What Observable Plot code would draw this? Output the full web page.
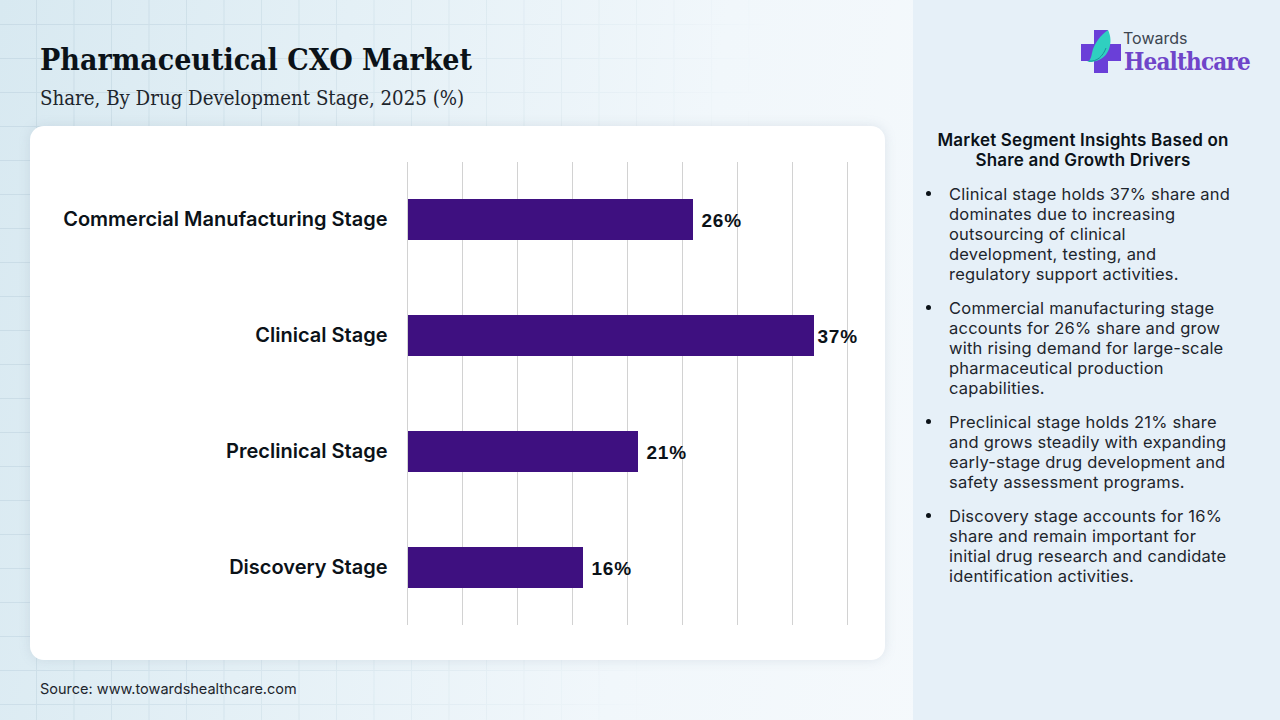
<!DOCTYPE html>
<html><head><meta charset="utf-8">
<script src="https://cdn.jsdelivr.net/npm/d3@7"></script>
<script src="https://cdn.jsdelivr.net/npm/@observablehq/plot@0.6"></script>
<style>
html,body{margin:0;padding:0;width:1280px;height:720px;overflow:hidden}
#page{position:relative;width:1280px;height:720px;overflow:hidden;
 background:linear-gradient(100deg,#d8e9f1 0%,#e4f0f6 25%,#f1f7fb 52%,#f9fbfd 100%)}
#grid{position:absolute;left:0;top:0;width:913px;height:720px;
 background-image:linear-gradient(#c6d9e4 1px,transparent 1px),linear-gradient(90deg,#c6d9e4 1px,transparent 1px);
 background-size:37.5px 34px;background-position:36px 24px;
 -webkit-mask-image:linear-gradient(100deg,rgba(0,0,0,.85),rgba(0,0,0,.3) 50%,transparent 75%)}
#side{position:absolute;left:913px;top:0;width:367px;height:720px;background:#e6f0f8}
#card{position:absolute;left:30px;top:126px;width:855px;height:534px;background:#fff;border-radius:14px;box-shadow:0 0 12px rgba(120,140,160,.18)}
#title{position:absolute;left:40px;top:42px;font:700 30px "DejaVu Serif Condensed","DejaVu Serif";color:#0b1218;white-space:nowrap}
#sub{position:absolute;left:40px;top:86px;font:400 20.25px "DejaVu Serif Condensed","DejaVu Serif";color:#1d252c;white-space:nowrap}
#source{position:absolute;left:40px;top:680px;font:400 14.5px Inter;color:#1d252c}
#chart{position:absolute;left:0;top:0}
#chart .val text,#chart text.val{letter-spacing:.8px}
#head{position:absolute;left:925px;top:130px;width:316px;text-align:center;font:600 17px/20px Inter;letter-spacing:.18px;color:#0b1218;white-space:nowrap}
#list{position:absolute;left:925px;top:184px;width:316px;margin:0;padding:0;list-style:none;font:400 16.5px/20px Inter;letter-spacing:.22px;color:#1d252c}
#list li{position:relative;padding-left:24px;margin-bottom:14px;white-space:nowrap}
#list li::before{content:"";position:absolute;left:1px;top:7px;width:5px;height:5px;border-radius:50%;background:#0b1218}
#logo{position:absolute;left:1081px;top:30px;width:42px;height:44px}
#t1{position:absolute;left:1123px;top:28px;font:400 16px Inter;color:#3d4650}
#t2{position:absolute;left:1124px;top:47px;font:700 24px "DejaVu Serif Condensed","DejaVu Serif";color:#6f45c9;letter-spacing:-.85px;white-space:nowrap}
</style></head><body>
<div id="page">
<div id="grid"></div><div id="side"></div>
<div id="title">Pharmaceutical CXO Market</div>
<div id="sub">Share, By Drug Development Stage, 2025 (%)</div>
<div id="card"></div>
<div id="chart"></div>
<div id="source">Source: www.towardshealthcare.com</div>
<svg id="logo" viewBox="0 0 42 44"><path d="M13 0h14v14h13v17h-13v12h-14v-12h-13v-17h13z" fill="#6a3fd8"/><path d="M27 0c6 12 1 28-12 31-3 1-6 1-9 1 3-1 4-4 5-9 2-10 9-18 16-23z" fill="#2fd0c0"/><path d="M8 31c8 1 14-5 17-13" fill="none" stroke="#1d8f99" stroke-width="1"/></svg>
<div id="t1">Towards</div><div id="t2">Healthcare</div>
<div id="head">Market Segment Insights Based on<br>Share and Growth Drivers</div>
<ul id="list"></ul>
</div>
<script>
const stages = ["Commercial Manufacturing Stage","Clinical Stage","Preclinical Stage","Discovery Stage"];
const shares = [26,37,21,16];
const xTicks = [0,5,10,15,20,25,30,35,40];
const notes = [
 ["Clinical stage holds 37% share and","dominates due to increasing","outsourcing of clinical","development, testing, and","regulatory support activities."],
 ["Commercial manufacturing stage","accounts for 26% share and grow","with rising demand for large-scale","pharmaceutical production","capabilities."],
 ["Preclinical stage holds 21% share","and grows steadily with expanding","early-stage drug development and","safety assessment programs."],
 ["Discovery stage accounts for 16%","share and remain important for","initial drug research and candidate","identification activities."]
];
const rows = stages.map((stage,i)=>({stage,share:shares[i]}));
const valueStyle = {y:"stage",x:"share",text:d=>d.share+"%",textAnchor:"start",dy:1,fontFamily:"Liberation Sans",fontWeight:700,fontSize:19,fill:"#0b1218",className:"val"};
const plot = Plot.plot({
 width:1280,height:720,marginLeft:407,marginRight:433,marginTop:161,marginBottom:95,
 style:{background:"transparent"},
 x:{domain:[0,40],axis:null},
 y:{domain:stages,paddingInner:0.647,paddingOuter:0.3235,axis:null},
 marks:[
  Plot.ruleX(xTicks,{stroke:"#d2d2d2",strokeWidth:1,strokeOpacity:1,insetTop:1}),
  Plot.barX(rows,{y:"stage",x:"share",fill:"#3e1080",insetLeft:1}),
  Plot.axisY({anchor:"left",tickSize:0,tickPadding:20,label:null,fontFamily:"Inter",fontWeight:600,fontSize:20,color:"#0b1218"}),
  Plot.text(rows,{...valueStyle,filter:d=>d.share!==37,dx:8}),
  Plot.text(rows,{...valueStyle,filter:d=>d.share===37,dx:3})
 ]
});
document.getElementById("chart").append(plot);
document.getElementById("list").innerHTML = notes.map(n=>"<li>"+n.join("<br>")+"</li>").join("");
</script>
</body></html>
